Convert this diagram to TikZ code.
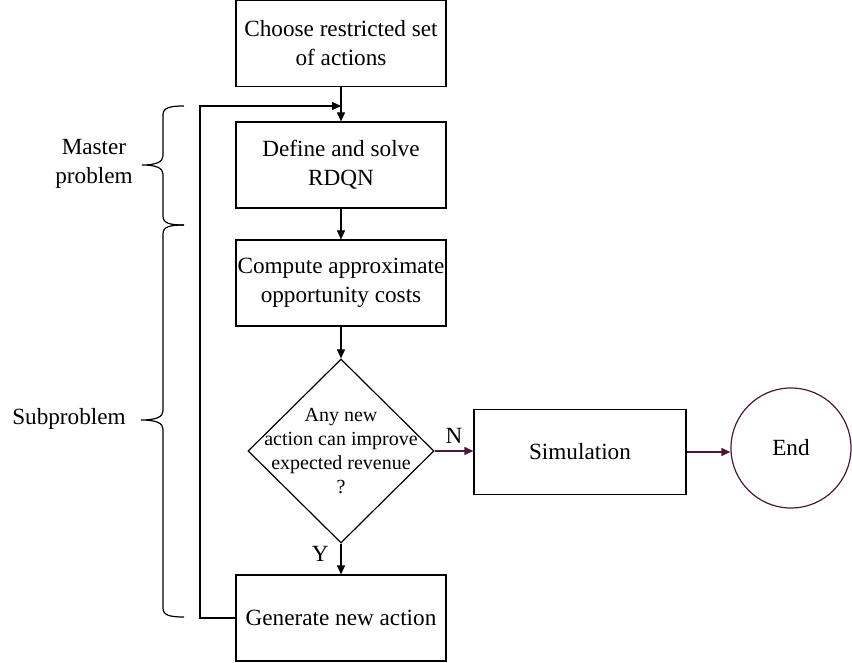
\documentclass[tikz,border=0pt]{standalone}
\usepackage{fontspec}
\setmainfont{Liberation Serif}
\definecolor{flowpurple}{RGB}{75, 25, 55}
\usetikzlibrary{shapes.geometric, arrows.meta, positioning, calc}

\begin{document}
\begin{tikzpicture}[x=0.5pt, y=-0.5pt, line width=0.6pt,
  stepbox/.style={draw, rectangle, minimum width=105pt, minimum height=43pt, inner sep=0pt, align=center, font=\fontsize{11.6}{14.5}\selectfont},
  decision/.style={draw, diamond, minimum width=93pt, minimum height=92pt, inner sep=0pt},
  flow/.style={-{Triangle[length=4.5pt, width=4pt]}},
  lbl/.style={font=\fontsize{11.6}{14.5}\selectfont, align=center}]
  \useasboundingbox (0,0) rectangle (852,663);

  % main column
  \node[stepbox] (choose) at (341,43.5) {Choose restricted set\\ of actions};
  \node[stepbox] (define) at (341,165) {Define and solve\\RDQN};
  \node[stepbox] (compute) at (341,283) {Compute approximate\\opportunity costs};
  \node[decision] (decide) at (341,451) {};
  \node[font=\fontsize{10}{12}\selectfont, align=center] (question) at (decide.center) {Any new\\action can improve\\expected revenue\\?};
  \node[stepbox] (generate) at (341,618) {Generate new action};

  % exit branch
  \node[stepbox, minimum width=106pt, minimum height=42.5pt] (sim) at (580,452) {Simulation};
  \node[draw=flowpurple, circle, minimum size=60pt, inner sep=0pt, lbl] (finish) at (791,448) {End};

  % connectors
  \draw[flow] (choose) -- (define);
  \draw[flow] (define) -- (compute);
  \draw[flow] (compute) -- (decide);
  \draw[flow] (decide) -- node[left, pos=0.35, xshift=-2.5pt, lbl]{Y} (generate);
  \draw[flow, flowpurple] (decide.east) -- node[above, lbl, text=black]{N} (decide.east -| sim.west);
  \draw[flow, flowpurple] (sim.east) -- (sim.east -| finish.west);

  % feedback loop
  \coordinate (looptop) at (200,106);
  \draw[flow] (generate.west) -| (looptop) -- (looptop -| define.north);

  % braces
  \draw (184,106) .. controls (169,106) and (163,108) .. (163,115)
    -- (163,156) .. controls (163,162) and (156,165) .. (142,165)
    .. controls (156,165) and (163,168) .. (163,174)
    -- (163,216) .. controls (163,223) and (169,225) .. (184,225);
  \draw (184,225) .. controls (169,225) and (163,227) .. (163,234)
    -- (163,411) .. controls (163,417) and (156,420) .. (141,420)
    .. controls (156,420) and (163,423) .. (163,429)
    -- (163,608) .. controls (163,615) and (169,617) .. (184,617);
  \node[lbl] (master) at (94,164) {Master\\problem};
  \node[lbl] (sub) at (69,419) {Subproblem};
\end{tikzpicture}
\end{document}
